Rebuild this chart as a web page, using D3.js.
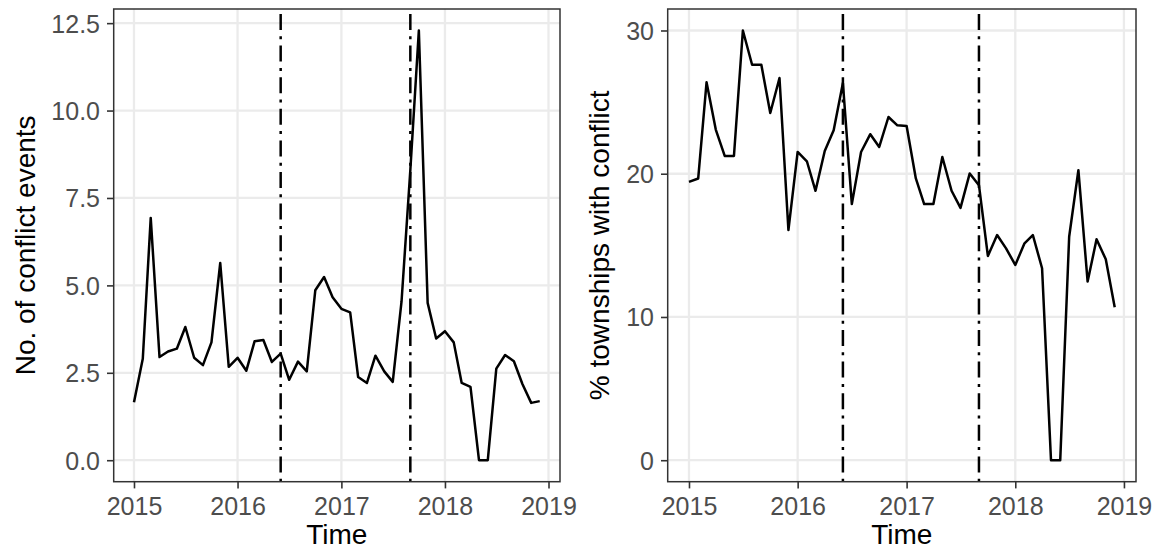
<!DOCTYPE html>
<html>
<head>
<meta charset="utf-8">
<script src="https://cdn.jsdelivr.net/npm/d3@7"></script>
<style>
  html, body { margin: 0; padding: 0; background: #ffffff; }
  svg { display: block; font-family: "Liberation Sans", Arial, Helvetica, sans-serif; }
</style>
</head>
<body>
<svg id="chart" width="1152" height="550"></svg>
<script>
// Monthly series, January 2015 to December 2018
const months = d3.utcMonths(new Date(Date.UTC(2015, 0, 1)), new Date(Date.UTC(2019, 0, 1)));

const conflictEvents = [
  1.66, 2.90, 6.93, 2.95, 3.11, 3.19, 3.81, 2.93, 2.72, 3.37, 5.64, 2.67,
  2.93, 2.56, 3.40, 3.44, 2.81, 3.05, 2.30, 2.82, 2.54, 4.86, 5.24, 4.66,
  4.33, 4.23, 2.38, 2.21, 2.99, 2.54, 2.24, 4.54, 8.30, 12.29, 4.50, 3.48,
  3.69, 3.37, 2.21, 2.10, 0.00, 0.00, 2.62, 3.01, 2.83, 2.18, 1.64, 1.69
];

const townshipShare = [
  19.43, 19.67, 26.38, 23.08, 21.24, 21.24, 30.00, 27.61, 27.61, 24.24, 26.68, 16.07,
  21.52, 20.87, 18.81, 21.59, 23.03, 26.33, 17.88, 21.52, 22.76, 21.87, 23.96, 23.38,
  23.33, 19.67, 17.88, 17.88, 21.17, 18.81, 17.62, 20.02, 19.20, 14.26, 15.72, 14.79,
  13.63, 15.14, 15.72, 13.40, 0.00, 0.00, 15.60, 20.25, 12.47, 15.42, 14.03, 10.68
];

// Reference dates marked with dot-dash lines
const eventDates = [new Date(Date.UTC(2016, 5, 1)), new Date(Date.UTC(2017, 8, 1))];

const xTickYears = [2015, 2016, 2017, 2018, 2019];
const leftYTicks = [0, 2.5, 5, 7.5, 10, 12.5];
const rightYTicks = [0, 10, 20, 30];

const leftTitle = "No. of conflict events";
const rightTitle = "% townships with conflict";
const xTitle = "Time";

const svg = d3.select("#chart");

const panelTop = 9, panelBottom = 481.7;
const tickLen = 6.7;
const tickFont = 25;
const titleFont = 28;

function expand(lo, hi) {
  const pad = (hi - lo) * 0.05;
  return [lo - pad, hi + pad];
}

function drawPanel(opts) {
  const { left, right, values, yTicks, yFormat, title, titleX } = opts;

  const tDomain = expand(+months[0], +months[months.length - 1]).map(t => new Date(t));
  const x = d3.scaleUtc().domain(tDomain).range([left, right]);
  const y = d3.scaleLinear().domain(expand(0, d3.max(values))).range([panelBottom, panelTop]);

  const g = svg.append("g");

  // panel background + major grid
  g.append("rect")
    .attr("x", left).attr("y", panelTop)
    .attr("width", right - left).attr("height", panelBottom - panelTop)
    .attr("fill", "#ffffff");

  const yearDates = xTickYears.map(yr => new Date(Date.UTC(yr, 0, 1)));

  g.append("g").selectAll("line")
    .data(yearDates).join("line")
    .attr("x1", d => x(d)).attr("x2", d => x(d))
    .attr("y1", panelTop).attr("y2", panelBottom)
    .attr("stroke", "#EBEBEB").attr("stroke-width", 2.3);

  g.append("g").selectAll("line")
    .data(yTicks).join("line")
    .attr("x1", left).attr("x2", right)
    .attr("y1", d => y(d)).attr("y2", d => y(d))
    .attr("stroke", "#EBEBEB").attr("stroke-width", 2.3);

  // dot-dash reference lines, drawn upward from the panel floor
  g.append("g").selectAll("line")
    .data(eventDates).join("line")
    .attr("x1", d => x(d)).attr("x2", d => x(d))
    .attr("y1", panelBottom).attr("y2", panelTop)
    .attr("stroke", "#000000").attr("stroke-width", 2.5)
    .attr("stroke-dasharray", "3,6.3,16,6.3");

  // series line
  const line = d3.line()
    .x((d, i) => x(months[i]))
    .y(d => y(d));

  g.append("path")
    .datum(values)
    .attr("d", line)
    .attr("fill", "none")
    .attr("stroke", "#000000")
    .attr("stroke-width", 2.5)
    .attr("stroke-linejoin", "round");

  // panel border
  g.append("rect")
    .attr("x", left).attr("y", panelTop)
    .attr("width", right - left).attr("height", panelBottom - panelTop)
    .attr("fill", "none")
    .attr("stroke", "#333333").attr("stroke-width", 1.5);

  // x axis
  const xAxis = d3.axisBottom(x)
    .tickValues(yearDates)
    .tickFormat(d3.utcFormat("%Y"))
    .tickSize(tickLen)
    .tickPadding(8.5);
  const xg = g.append("g").attr("transform", `translate(0,${panelBottom})`).call(xAxis);
  xg.select(".domain").remove();
  xg.selectAll(".tick line").attr("stroke", "#333333").attr("stroke-width", 1.6);
  xg.selectAll(".tick text")
    .attr("fill", "#4D4D4D")
    .style("font-size", tickFont + "px")
    .style("font-family", "'Liberation Sans', Arial, sans-serif");

  // y axis
  const yAxis = d3.axisLeft(y)
    .tickValues(yTicks)
    .tickFormat(yFormat)
    .tickSize(tickLen)
    .tickPadding(7);
  const yg = g.append("g").attr("transform", `translate(${left},0)`).call(yAxis);
  yg.select(".domain").remove();
  yg.selectAll(".tick line").attr("stroke", "#333333").attr("stroke-width", 1.6);
  yg.selectAll(".tick text")
    .attr("fill", "#4D4D4D")
    .attr("dy", "0.36em")
    .style("font-size", tickFont + "px")
    .style("font-family", "'Liberation Sans', Arial, sans-serif");

  // axis titles
  g.append("text")
    .attr("x", (left + right) / 2).attr("y", 544)
    .attr("text-anchor", "middle")
    .attr("fill", "#000000")
    .style("font-size", titleFont + "px")
    .text(xTitle);

  g.append("text")
    .attr("transform", `translate(${titleX},${(panelTop + panelBottom) / 2}) rotate(-90)`)
    .attr("text-anchor", "middle")
    .attr("fill", "#000000")
    .style("font-size", titleFont + "px")
    .text(title);
}

drawPanel({
  left: 113.7, right: 560,
  values: conflictEvents,
  yTicks: leftYTicks,
  yFormat: d3.format(".1f"),
  title: leftTitle,
  titleX: 35
});

drawPanel({
  left: 667.7, right: 1136,
  values: townshipShare,
  yTicks: rightYTicks,
  yFormat: d3.format("d"),
  title: rightTitle,
  titleX: 609
});
</script>
</body>
</html>
